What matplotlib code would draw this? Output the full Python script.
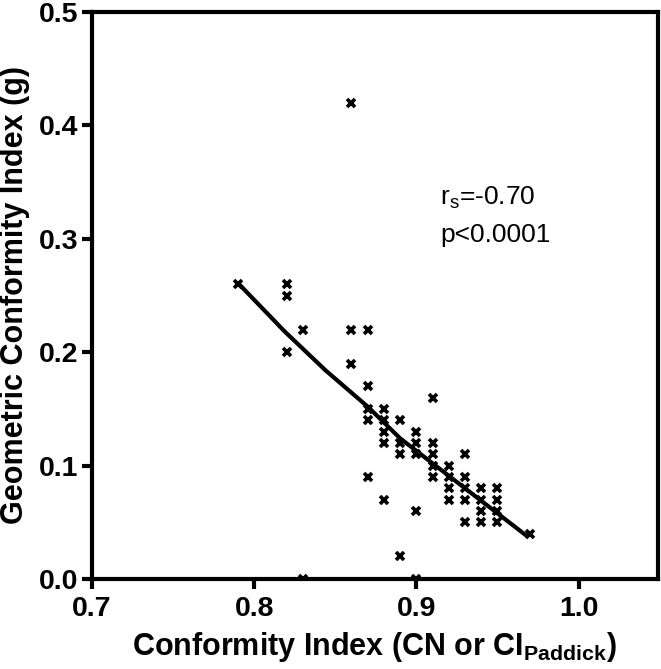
import matplotlib
matplotlib.use("Agg")
import matplotlib.pyplot as plt

plt.rcParams['font.family'] = ['Liberation Sans', 'DejaVu Sans']
plt.rcParams['mathtext.fontset'] = 'custom'
plt.rcParams['mathtext.rm'] = 'Liberation Sans'
plt.rcParams['mathtext.bf'] = 'Liberation Sans:bold'

# Data points (Conformity Index vs Geometric Conformity Index)
ci_x = [0.79, 0.82, 0.82, 0.82, 0.83, 0.83, 0.86, 0.86, 0.86, 0.87, 0.87, 0.87,
        0.87, 0.87, 0.88, 0.88, 0.88, 0.88, 0.88, 0.89, 0.89, 0.89, 0.89, 0.90,
        0.90, 0.90, 0.90, 0.90, 0.91, 0.91, 0.91, 0.91, 0.91, 0.92, 0.92, 0.92,
        0.92, 0.93, 0.93, 0.93, 0.93, 0.93, 0.94, 0.94, 0.94, 0.94, 0.95, 0.95,
        0.95, 0.95, 0.97]
g_y = [0.26, 0.26, 0.25, 0.20, 0.22, 0.00, 0.42, 0.22, 0.19, 0.22, 0.17, 0.15,
       0.14, 0.09, 0.15, 0.14, 0.13, 0.12, 0.07, 0.14, 0.12, 0.11, 0.02, 0.13,
       0.12, 0.11, 0.06, 0.00, 0.16, 0.12, 0.11, 0.10, 0.09, 0.10, 0.09, 0.08,
       0.07, 0.11, 0.09, 0.08, 0.07, 0.05, 0.08, 0.07, 0.06, 0.05, 0.08, 0.07,
       0.06, 0.05, 0.04]

# Fitted trend line
fit_x = [0.79, 0.819, 0.844, 0.870, 0.890, 0.930, 0.969]
fit_y = [0.261, 0.218, 0.184, 0.152, 0.124, 0.080, 0.037]

x_ticks = [0.7, 0.8, 0.9, 1.0]
y_ticks = [0.0, 0.1, 0.2, 0.3, 0.4, 0.5]

fig = plt.figure(figsize=(6.61, 6.69), dpi=100)
ax = fig.add_axes([92/661, 1 - 579/669, (658 - 92)/661, (579 - 12)/669])

ax.plot(fit_x, fit_y, color='black', lw=3, solid_capstyle='butt', zorder=2)
ax.plot(ci_x, g_y, linestyle='none', marker='x', color='black',
        ms=6, mew=2.6, zorder=3)

ax.set_xlim(0.7, 1.049)
ax.set_ylim(0.0, 0.5)
ax.set_xticks(x_ticks)
ax.set_xticklabels([f"{v:.1f}" for v in x_ticks])
ax.set_yticks(y_ticks)
ax.set_yticklabels([f"{v:.1f}" for v in y_ticks])

for s in ax.spines.values():
    s.set_linewidth(3)
ax.tick_params(direction='out', length=7, width=3, labelsize=20.5, pad=3)
ax.tick_params(axis='x', pad=5)
for lab in ax.get_xticklabels() + ax.get_yticklabels():
    lab.set_fontweight('bold')

ax.set_xlabel(r'Conformity Index (CN or CI$_{\mathbf{Paddick}}$)',
              fontsize=22, fontweight='bold', labelpad=6)
ax.set_ylabel('Geometric Conformity Index (g)', fontsize=22,
              fontweight='bold', labelpad=6)

ax.text(0.9148, 0.330, r'r$_\mathrm{s}$=-0.70', fontsize=19, va='baseline', ha='left')
ax.text(0.9148, 0.297, 'p<0.0001', fontsize=19, va='baseline', ha='left')

fig.savefig('out.png', dpi=100)
